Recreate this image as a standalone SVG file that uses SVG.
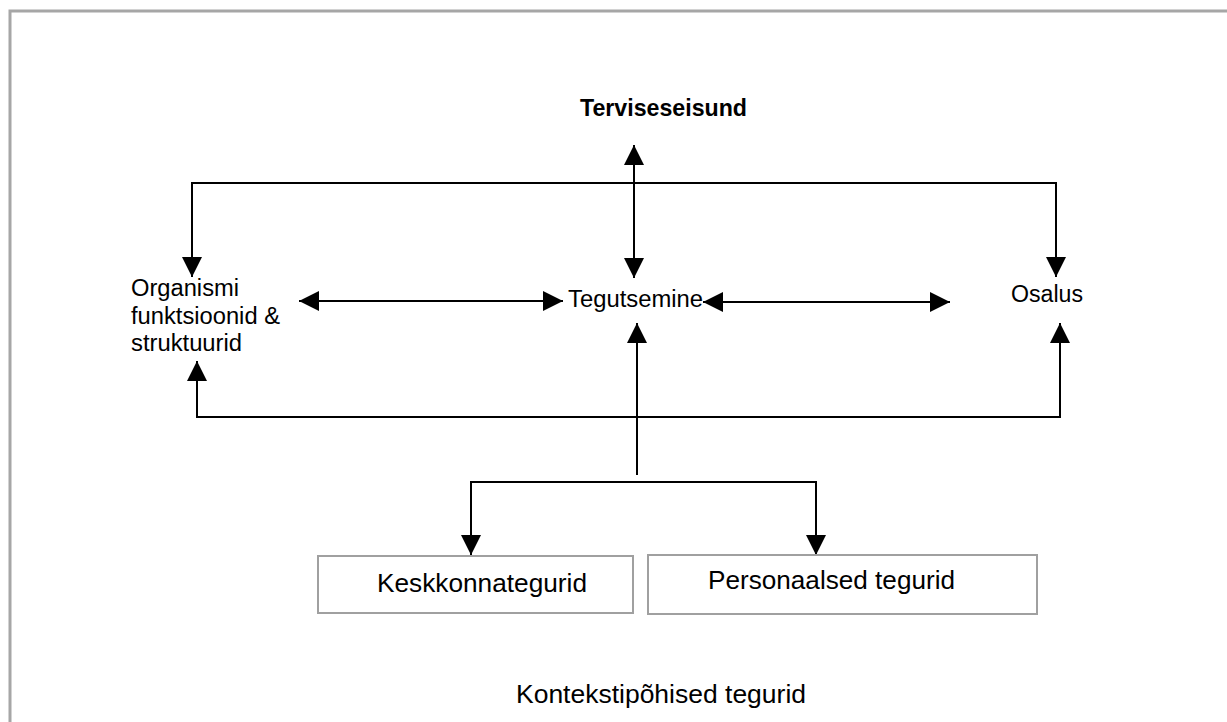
<svg xmlns="http://www.w3.org/2000/svg" width="1227" height="722" viewBox="0 0 1227 722">
<style>
.t{font-family:"Liberation Sans",Arial,sans-serif;fill:#000;}
.c{fill:none;stroke:#000;stroke-width:2;}
.box{fill:#fff;stroke:#a0a0a0;stroke-width:2;}
</style>
<defs>
<marker id="ah" viewBox="0 0 20 20" markerUnits="userSpaceOnUse" markerWidth="20" markerHeight="20" refX="20" refY="10" orient="auto-start-reverse">
<path d="M0,0 L20,10 L0,20 z" fill="#000"/>
</marker>
</defs>
<rect width="1227" height="722" fill="#fff"/>
<path d="M10,722 V11 H1227" fill="none" stroke="#a6a6a6" stroke-width="3"/>
<g id="connectors">
<path class="c" d="M634,145 V278" marker-start="url(#ah)" marker-end="url(#ah)"/>
<path class="c" d="M192,277 V183 H1056 V277" marker-start="url(#ah)" marker-end="url(#ah)"/>
<path class="c" d="M299,301 H563" marker-start="url(#ah)" marker-end="url(#ah)"/>
<path class="c" d="M703,302 H950" marker-start="url(#ah)" marker-end="url(#ah)"/>
<path class="c" d="M197,361 V417 H1060 V323" marker-start="url(#ah)" marker-end="url(#ah)"/>
<path class="c" d="M637,475 V323" marker-end="url(#ah)"/>
<path class="c" d="M471,555 V482 H816 V555" marker-start="url(#ah)" marker-end="url(#ah)"/>
</g>
<g id="terviseseisund">
<text class="t" x="580" y="116" font-size="24" font-weight="bold" textLength="167" lengthAdjust="spacingAndGlyphs">Terviseseisund</text>
</g>
<g id="organismi">
<text class="t" x="131" y="296" font-size="23" textLength="108" lengthAdjust="spacingAndGlyphs">Organismi</text>
<text class="t" x="131" y="324" font-size="23" textLength="149" lengthAdjust="spacingAndGlyphs">funktsioonid &amp;</text>
<text class="t" x="131" y="351" font-size="23" textLength="111" lengthAdjust="spacingAndGlyphs">struktuurid</text>
</g>
<g id="tegutsemine">
<text class="t" x="568" y="307" font-size="23" textLength="135" lengthAdjust="spacingAndGlyphs">Tegutsemine</text>
</g>
<g id="osalus">
<text class="t" x="1011" y="302" font-size="23" textLength="72" lengthAdjust="spacingAndGlyphs">Osalus</text>
</g>
<g id="keskkonnategurid">
<rect class="box" x="318" y="556" width="315" height="57"/>
<text class="t" x="377" y="592" font-size="26" textLength="210" lengthAdjust="spacingAndGlyphs">Keskkonnategurid</text>
</g>
<g id="personaalsed">
<rect class="box" x="648" y="555" width="389" height="59"/>
<text class="t" x="708" y="589" font-size="26" textLength="247" lengthAdjust="spacingAndGlyphs">Personaalsed tegurid</text>
</g>
<g id="kontekst">
<text class="t" x="516" y="703" font-size="26" textLength="290" lengthAdjust="spacingAndGlyphs">Kontekstipõhised tegurid</text>
</g>
</svg>
